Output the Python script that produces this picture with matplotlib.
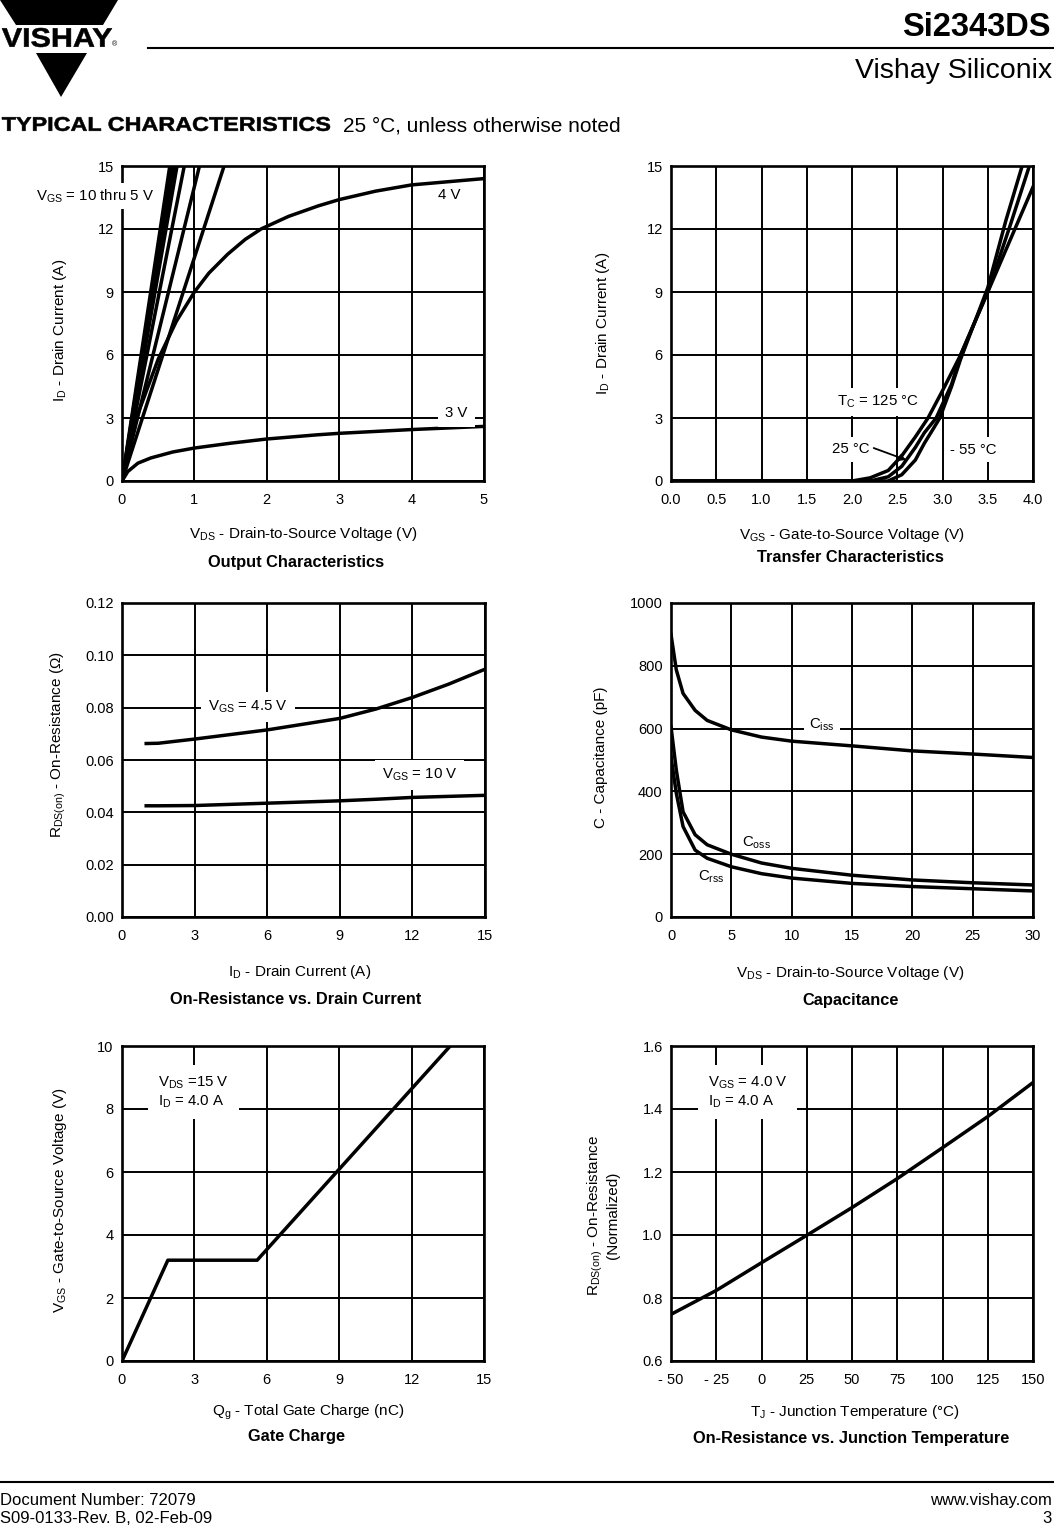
import numpy as np
import matplotlib
matplotlib.use("Agg")
import matplotlib.pyplot as plt
import matplotlib.transforms as mtransforms
from matplotlib.textpath import TextPath
from matplotlib.patches import PathPatch, Polygon
from matplotlib.font_manager import FontProperties

plt.rcParams['font.family'] = ['Liberation Sans', 'DejaVu Sans']
plt.rcParams['mathtext.fontset'] = 'custom'
plt.rcParams['mathtext.rm'] = 'Liberation Sans'
plt.rcParams['mathtext.it'] = 'Liberation Sans:italic'
plt.rcParams['mathtext.bf'] = 'Liberation Sans:bold'

W, H = 1054, 1525

# ---- data ----
# output characteristics, VGS = 10 thru 5 V: VDS where ID reaches 15 A
out_hi_vds_end = [0.66, 0.69, 0.72, 0.76, 0.86, 1.07, 1.41]
out_4v_vds = [0, 0.08, 0.22, 0.5, 0.75, 1.0, 1.2, 1.46, 1.7, 1.92, 2.3, 2.71, 3.0, 3.5, 4.0, 4.5, 5.0]
out_4v_id = [0, 1.5, 3.2, 5.8, 7.6, 9.0, 9.9, 10.8, 11.5, 12.0, 12.6, 13.1, 13.4, 13.8, 14.1, 14.25, 14.4]
out_3v_vds = [0, 0.08, 0.22, 0.4, 0.7, 1.0, 1.5, 2.0, 2.7, 3.0, 4.0, 5.0]
out_3v_id = [0, 0.45, 0.85, 1.1, 1.38, 1.57, 1.8, 2.0, 2.2, 2.27, 2.45, 2.6]

# transfer characteristics
tr_125_vgs = [0, 2.0, 2.2, 2.4, 2.55, 2.7, 2.84, 3.0, 3.2, 3.5, 3.75, 4.0]
tr_125_id = [0, 0.0, 0.15, 0.5, 1.2, 2.1, 3.0, 4.3, 6.0, 9.0, 11.5, 14.0]
tr_25_vgs = [0, 2.2, 2.4, 2.55, 2.7, 2.8, 2.93, 3.1, 3.2, 3.5, 3.75, 3.96]
tr_25_id = [0, 0.0, 0.2, 0.7, 1.6, 2.3, 3.0, 4.6, 6.0, 9.0, 12.2, 15.0]
tr_m55_vgs = [0, 2.4, 2.55, 2.7, 2.8, 2.9, 2.97, 3.1, 3.2, 3.5, 3.7, 3.88]
tr_m55_id = [0, 0.0, 0.3, 1.0, 1.8, 2.5, 3.0, 4.5, 5.8, 9.2, 12.4, 15.0]

# on-resistance vs drain current
ron_id = [1, 1.5, 3, 6, 9, 10.5, 12, 13.5, 15]
ron_45v = [0.0663, 0.0664, 0.068, 0.0715, 0.0759, 0.0795, 0.0839, 0.089, 0.0947]
ron_10v = [0.0425, 0.0425, 0.0426, 0.0435, 0.0444, 0.0450, 0.0457, 0.0461, 0.0465]

# capacitance
cap_vds = [0, 0.44, 1.0, 2.0, 3.0, 5, 7.5, 10, 15, 20, 25, 30]
cap_ciss = [900, 787, 712, 658, 626, 596, 573, 560, 545, 529, 519, 508]
cap_coss = [606, 468, 335, 262, 230, 200, 172, 155, 133, 118, 109, 102]
cap_crss = [510, 394, 288, 213, 187, 160, 138, 124, 107, 97, 90, 83]

# gate charge
qg_nc = [0, 1.9, 5.6, 13.6]
qg_vgs = [0, 3.2, 3.2, 10.0]

# normalized on-resistance vs junction temperature
tj_c = [-50, -25, 0, 25, 50, 75, 100, 125, 150]
ron_norm = [0.748, 0.824, 0.912, 0.999, 1.087, 1.179, 1.277, 1.376, 1.484]

fig = plt.figure(figsize=(W / 100, H / 100), dpi=100)

# page overlay in pixel coordinates
pg = fig.add_axes([0, 0, 1, 1], zorder=-1)
pg.set_xlim(0, W)
pg.set_ylim(H, 0)
pg.axis('off')

LW_CURVE = 2.5
LW_GRID = 1.4
FS_TICK = 10.5
FS_LAB = 11
FS_IN = 10.8


def make_axes(l, t, r, b, xlim, ylim, xticks, yticks, xfmt, yfmt):
    ax = fig.add_axes([l / W, 1 - b / H, (r - l) / W, (b - t) / H])
    ax.set_xlim(*xlim)
    ax.set_ylim(*ylim)
    ax.set_xticks(xticks)
    ax.set_yticks(yticks)
    ax.set_xticklabels([xfmt(v) for v in xticks])
    ax.set_yticklabels([yfmt(v) for v in yticks])
    ax.tick_params(length=0, labelsize=FS_TICK)
    ax.tick_params(axis='x', pad=8.5)
    ax.tick_params(axis='y', pad=6)
    ax.grid(True, color='black', lw=LW_GRID)
    ax.set_axisbelow(True)
    for s in ax.spines.values():
        s.set_linewidth(1.9)
    return ax


def box_text(ax, x, y, s, ha='center', pad=3):
    ax.text(x, y, s, ha=ha, va='center', fontsize=FS_IN, zorder=6,
            bbox=dict(facecolor='white', edgecolor='none', pad=pad))


def path_text(s, x0, x1, ytop, ybot, weight='bold'):
    # text stretched into a pixel box (heavy condensed faces are not installed)
    tp = TextPath((0, 0), s, size=10, prop=FontProperties(family='Liberation Sans', weight=weight))
    ext = tp.get_extents()
    trf = (mtransforms.Affine2D().translate(-ext.x0, -ext.y0)
           .scale((x1 - x0) / ext.width, -(ybot - ytop) / ext.height)
           .translate(x0, ybot) + pg.transData)
    pg.add_patch(PathPatch(tp, transform=trf, fc='black', ec='black', lw=0.4))


ifmt = lambda v: '%d' % v

# ---- header ----
pg.add_patch(Polygon([(0, 0), (118, 0), (103, 25), (16, 25)], closed=True, fc='black', ec='none'))
pg.add_patch(Polygon([(36, 53), (87, 53), (61, 97)], closed=True, fc='black', ec='none'))
path_text('VISHAY', 2, 112, 28, 47)
pg.text(115, 46, '®', fontsize=5, ha='center', va='baseline')
pg.plot([148, W], [48, 48], color='black', lw=1.5)
pg.text(1051, 36, 'Si2343DS', fontsize=23.5, fontweight='bold', ha='right', va='baseline')
pg.text(1052, 78, 'Vishay Siliconix', fontsize=20.5, ha='right', va='baseline')
path_text('TYPICAL CHARACTERISTICS', 2, 330, 117, 131)
pg.text(343, 131, '25 °C, unless otherwise noted', fontsize=15, ha='left', va='baseline')

# ---- footer ----
pg.plot([0, W], [1482, 1482], color='black', lw=1.5)
pg.text(0, 1505, 'Document Number: 72079', fontsize=12, ha='left', va='baseline')
pg.text(0, 1523, 'S09-0133-Rev. B, 02-Feb-09', fontsize=12, ha='left', va='baseline')
pg.text(1052, 1505, 'www.vishay.com', fontsize=12, ha='right', va='baseline')
pg.text(1052, 1523, '3', fontsize=12, ha='right', va='baseline')

# ---- Output Characteristics ----
ax1 = make_axes(122, 166, 484, 481, (0, 5), (0, 15), range(0, 6), range(0, 16, 3), ifmt, ifmt)
for xe in out_hi_vds_end:
    ax1.plot([0, xe], [0, 15], color='black', lw=LW_CURVE)
ax1.plot(out_4v_vds, out_4v_id, color='black', lw=LW_CURVE)
ax1.plot(out_3v_vds, out_3v_id, color='black', lw=LW_CURVE)
box_text(ax1, -0.37, 13.57, r'V$_{\rm GS}$ = 10 thru 5 V')
ax1.text(4.52, 13.6, '4 V', ha='center', va='center', fontsize=FS_IN)
box_text(ax1, 4.62, 3.24, '3 V', pad=5)

# ---- Transfer Characteristics ----
ax2 = make_axes(671, 166, 1033, 481, (0, 4), (0, 15), np.arange(0, 4.01, 0.5), range(0, 16, 3),
                lambda v: '%.1f' % v, ifmt)
ax2.plot(tr_125_vgs, tr_125_id, color='black', lw=LW_CURVE)
ax2.plot(tr_25_vgs, tr_25_id, color='black', lw=LW_CURVE)
ax2.plot(tr_m55_vgs, tr_m55_id, color='black', lw=LW_CURVE)
box_text(ax2, 2.29, 3.76, r'T$_{\rm C}$ = 125 °C', pad=4)
box_text(ax2, 1.99, 1.52, '25 °C', pad=4)
box_text(ax2, 3.34, 1.48, '- 55 °C', pad=4)
ax2.annotate('', xy=(2.6, 1.0), xytext=(2.24, 1.57),
             arrowprops=dict(arrowstyle='-|>', color='black', lw=1.3, mutation_scale=9,
                             shrinkA=0, shrinkB=0), zorder=7)

# ---- On-Resistance vs. Drain Current ----
ax3 = make_axes(122, 603, 485, 917, (0, 15), (0, 0.12), range(0, 16, 3), np.arange(0, 0.121, 0.02),
                ifmt, lambda v: '%.2f' % v)
ax3.plot(ron_id, ron_45v, color='black', lw=LW_CURVE)
ax3.plot(ron_id, ron_10v, color='black', lw=LW_CURVE)
box_text(ax3, 5.2, 0.0802, r'V$_{\rm GS}$ = 4.5 V', pad=5)
box_text(ax3, 12.3, 0.0543, r'V$_{\rm GS}$ = 10 V', pad=5)

# ---- Capacitance ----
ax4 = make_axes(671, 603, 1033, 917, (0, 30), (0, 1000), range(0, 31, 5), range(0, 1001, 200), ifmt, ifmt)
ax4.plot(cap_vds, cap_ciss, color='black', lw=LW_CURVE)
ax4.plot(cap_vds, cap_coss, color='black', lw=LW_CURVE)
ax4.plot(cap_vds, cap_crss, color='black', lw=LW_CURVE)
box_text(ax4, 12.5, 611, r'C$_{\rm iss}$', pad=4)
ax4.text(7.1, 236, r'C$_{\rm oss}$', ha='center', va='center', fontsize=FS_IN)
ax4.text(3.3, 127, r'C$_{\rm rss}$', ha='center', va='center', fontsize=FS_IN)

# ---- Gate Charge ----
ax5 = make_axes(122, 1046, 484, 1361, (0, 15), (0, 10), range(0, 16, 3), range(0, 11, 2), ifmt, ifmt)
ax5.plot(qg_nc, qg_vgs, color='black', lw=LW_CURVE)
box_text(ax5, 1.49, 8.54, 'V$_{\\rm DS}$ =15 V\nI$_{\\rm D}$ = 4.0 A', ha='left', pad=7)

# ---- On-Resistance vs. Junction Temperature ----
ax6 = make_axes(671, 1046, 1033, 1361, (-50, 150), (0.6, 1.6), range(-50, 151, 25), np.arange(0.6, 1.61, 0.2),
                lambda v: ('- %d' % -v) if v < 0 else '%d' % v, lambda v: '%.1f' % v)
ax6.plot(tj_c, ron_norm, color='black', lw=LW_CURVE)
box_text(ax6, -29.6, 1.454, 'V$_{\\rm GS}$ = 4.0 V\nI$_{\\rm D}$ = 4.0 A', ha='left', pad=7)

# ---- axis labels and titles (pixel positions) ----
xlabels = [
    (303, 534, r'V$_{\rm DS}$ - Drain-to-Source Voltage (V)'),
    (852, 535, r'V$_{\rm GS}$ - Gate-to-Source Voltage (V)'),
    (300, 972, r'I$_{\rm D}$ - Drain Current (A)'),
    (850, 973, r'V$_{\rm DS}$ - Drain-to-Source Voltage (V)'),
    (308, 1412, r'Q$_{\rm g}$ - Total Gate Charge (nC)'),
    (855, 1412, r'T$_{\rm J}$ - Junction Temperature (°C)'),
]
for x, y, s in xlabels:
    pg.text(x, y, s, ha='center', va='center', fontsize=FS_LAB)

titles = [
    (296, 562, 'Output Characteristics'),
    (850, 558, 'Transfer Characteristics'),
    (296, 999, 'On-Resistance vs. Drain Current'),
    (851, 1000, 'Capacitance'),
    (296, 1437, 'Gate Charge'),
    (851, 1438, 'On-Resistance vs. Junction Temperature'),
]
for x, y, s in titles:
    pg.text(x, y, s, ha='center', va='center', fontsize=11.8, fontweight='bold')

ylabels = [
    (60, 330, r'I$_{\rm D}$ - Drain Current (A)'),
    (603, 323, r'I$_{\rm D}$ - Drain Current (A)'),
    (58, 745, r'R$_{\rm DS(on)}$ - On-Resistance ($\Omega$)'),
    (601, 757, r'C - Capacitance (pF)'),
    (60, 1200, r'V$_{\rm GS}$ - Gate-to-Source Voltage (V)'),
    (603, 1215, 'R$_{\\rm DS(on)}$ - On-Resistance\n(Normalized)'),
]
for x, y, s in ylabels:
    pg.text(x, y, s, ha='center', va='center', fontsize=FS_LAB, rotation=90, linespacing=1.1)

fig.savefig('out.png', dpi=100, facecolor='white')
